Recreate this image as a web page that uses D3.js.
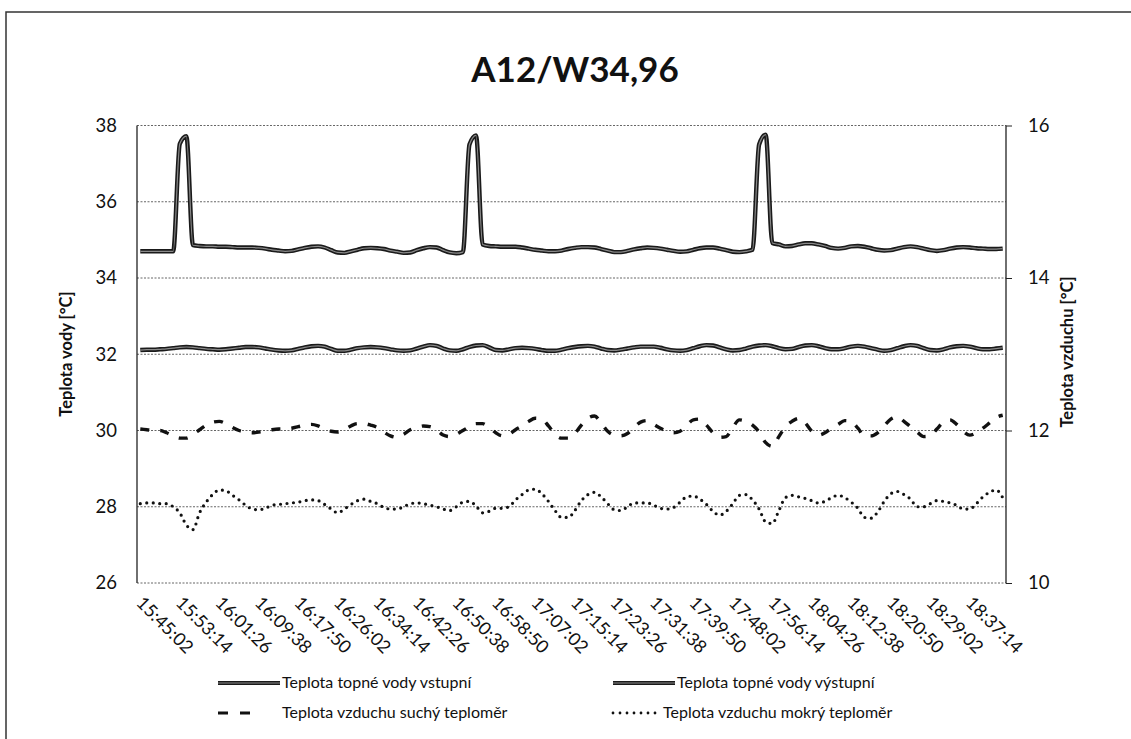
<!DOCTYPE html>
<html>
<head>
<meta charset="utf-8">
<script src="https://cdnjs.cloudflare.com/ajax/libs/d3/7.8.5/d3.min.js"></script>
<style>
body { margin: 0; background: #fff; }
text { font-family: Lato, "Open Sans", sans-serif; fill: #111; }
</style>
</head>
<body>
<svg id="chart" width="1131" height="739"></svg>
<script>

// popisky osy x (kazdy 6. odecet)
var tickLabels = ["15:45:02","15:53:14","16:01:26","16:09:38","16:17:50","16:26:02","16:34:14","16:42:26",
    "16:50:38","16:58:50","17:07:02","17:15:14","17:23:26","17:31:38","17:39:50","17:48:02","17:56:14",
    "18:04:26","18:12:38","18:20:50","18:29:02","18:37:14"];
var labelEvery = 6;

var seriesNames = ["Teplota topné vody vstupní", "Teplota topné vody výstupní",
    "Teplota vzduchu suchý teploměr", "Teplota vzduchu mokrý teploměr"];

// leva osa - voda
var waterIn = [34.70,34.70,34.70,34.70,34.70,34.70,37.52,37.72,34.86,34.84,
    34.83,34.83,34.82,34.82,34.81,34.80,34.80,34.80,34.79,34.77,
    34.74,34.72,34.70,34.71,34.75,34.79,34.82,34.83,34.80,34.73,
    34.67,34.66,34.70,34.74,34.78,34.79,34.78,34.76,34.72,34.69,
    34.66,34.67,34.73,34.78,34.81,34.80,34.73,34.67,34.65,34.68,
    37.50,37.74,34.88,34.84,34.83,34.82,34.82,34.82,34.80,34.77,
    34.74,34.72,34.70,34.70,34.72,34.76,34.79,34.81,34.81,34.80,
    34.76,34.72,34.68,34.68,34.71,34.75,34.78,34.80,34.79,34.77,
    34.74,34.71,34.69,34.70,34.74,34.78,34.80,34.80,34.77,34.73,
    34.69,34.68,34.70,34.74,37.50,37.76,34.92,34.88,34.83,34.84,
    34.88,34.91,34.91,34.88,34.84,34.79,34.77,34.79,34.83,34.84,
    34.82,34.78,34.74,34.72,34.73,34.77,34.81,34.83,34.81,34.77,
    34.73,34.71,34.73,34.77,34.80,34.81,34.80,34.78,34.77,34.76,
    34.76,34.77];

var waterOut = [32.11,32.12,32.12,32.13,32.14,32.16,32.18,32.19,32.18,32.16,
    32.14,32.13,32.12,32.13,32.15,32.17,32.19,32.19,32.18,32.15,
    32.12,32.10,32.09,32.10,32.14,32.18,32.21,32.22,32.20,32.14,
    32.09,32.09,32.12,32.16,32.18,32.19,32.18,32.16,32.13,32.10,
    32.09,32.10,32.15,32.20,32.24,32.22,32.15,32.10,32.09,32.13,
    32.19,32.23,32.24,32.18,32.11,32.10,32.13,32.16,32.17,32.16,
    32.14,32.11,32.09,32.09,32.12,32.16,32.19,32.21,32.22,32.20,
    32.15,32.11,32.10,32.12,32.15,32.18,32.20,32.20,32.20,32.17,
    32.13,32.10,32.09,32.11,32.16,32.21,32.24,32.23,32.18,32.13,
    32.10,32.11,32.15,32.20,32.23,32.24,32.21,32.16,32.13,32.14,
    32.19,32.23,32.24,32.21,32.16,32.13,32.13,32.16,32.20,32.22,
    32.20,32.16,32.12,32.09,32.11,32.16,32.21,32.24,32.22,32.16,
    32.11,32.10,32.13,32.18,32.21,32.22,32.20,32.16,32.13,32.13,
    32.15,32.17];

// prava osa - vzduch
var airDry = [12.02,12.01,12.00,12.00,11.97,11.93,11.90,11.90,11.95,12.01,
    12.07,12.11,12.12,12.09,12.04,12.00,11.98,11.97,11.98,11.99,
    12.01,12.02,12.02,12.03,12.05,12.07,12.08,12.06,12.02,11.99,
    11.98,12.01,12.06,12.09,12.09,12.07,12.04,11.98,11.93,11.91,
    11.95,12.01,12.04,12.06,12.05,12.01,11.94,11.92,11.95,12.00,
    12.05,12.09,12.09,12.04,11.97,11.93,11.95,12.01,12.06,12.12,
    12.16,12.15,12.06,11.95,11.90,11.90,11.96,12.07,12.16,12.19,
    12.10,11.99,11.94,11.93,11.96,12.04,12.11,12.13,12.08,12.03,
    11.99,11.97,11.99,12.07,12.14,12.15,12.07,11.97,11.91,11.92,
    12.04,12.14,12.12,12.07,11.98,11.84,11.79,11.92,12.05,12.12,
    12.16,12.10,11.99,11.94,11.97,12.03,12.08,12.13,12.12,12.03,
    11.93,11.93,11.97,12.06,12.15,12.18,12.12,12.05,11.98,11.92,
    11.93,12.02,12.11,12.14,12.08,11.99,11.94,11.97,12.03,12.10,
    12.17,12.20];

var airWet = [11.04,11.05,11.05,11.04,11.04,11.00,10.92,10.76,10.70,10.92,
    11.06,11.16,11.22,11.21,11.15,11.09,11.02,10.97,10.96,10.98,
    11.02,11.03,11.04,11.05,11.06,11.08,11.09,11.08,11.03,10.97,
    10.92,10.97,11.03,11.08,11.10,11.07,11.04,10.99,10.97,10.97,
    11.00,11.04,11.05,11.04,11.02,11.00,10.97,10.95,11.00,11.06,
    11.07,11.01,10.92,10.94,10.98,10.98,11.00,11.09,11.16,11.22,
    11.23,11.17,11.07,10.95,10.86,10.86,10.95,11.08,11.16,11.19,
    11.13,11.04,10.96,10.95,11.00,11.05,11.05,11.05,11.02,10.98,
    10.97,10.99,11.06,11.13,11.14,11.10,11.03,10.94,10.89,10.94,
    11.04,11.15,11.16,11.09,10.97,10.80,10.78,10.95,11.12,11.15,
    11.13,11.11,11.08,11.05,11.07,11.12,11.15,11.12,11.06,10.98,
    10.86,10.85,10.93,11.07,11.17,11.20,11.16,11.10,11.00,11.00,
    11.04,11.08,11.07,11.05,11.02,10.97,10.97,11.04,11.13,11.19,
    11.22,11.12];

var svg = d3.select("#chart");

// ramecek kolem grafu (pravy a spodni okraj je oriznuty)
svg.append("rect")
    .attr("x", 6).attr("y", 12)
    .attr("width", 1140).attr("height", 740)
    .attr("fill", "none")
    .attr("stroke", "#333")
    .attr("stroke-width", 1.5);

// pozor: "top" je v prohlizeci rezervovane, proto plotTop
var plotLeft = 137, plotRight = 1006, plotTop = 125.5, plotBottom = 583;

var idx = d3.range(waterIn.length);
var x = d3.scalePoint().domain(idx).range([plotLeft, plotRight]).padding(0.5);
var yLeft = d3.scaleLinear().domain([26, 38]).range([plotBottom, plotTop]);
var yRight = d3.scaleLinear().domain([10, 16]).range([plotBottom, plotTop]);

// mrizka
svg.append("g")
    .selectAll("line")
    .data(d3.range(26, 39, 2))
    .enter()
    .append("line")
        .attr("x1", plotLeft).attr("x2", plotRight)
        .attr("y1", d => yLeft(d)).attr("y2", d => yLeft(d))
        .attr("stroke", "#555")
        .attr("stroke-width", 0.9)
        .attr("stroke-dasharray", "2,1.5");

// osy
svg.append("line")
    .attr("x1", plotLeft).attr("x2", plotLeft).attr("y1", plotTop).attr("y2", plotBottom)
    .attr("stroke", "#222").attr("stroke-width", 1.3);
svg.append("line")
    .attr("x1", plotRight).attr("x2", plotRight).attr("y1", plotTop).attr("y2", plotBottom)
    .attr("stroke", "#222").attr("stroke-width", 1.3);

var gl = svg.append("g").attr("transform", "translate(" + plotLeft + ",0)")
    .call(d3.axisLeft(yLeft).tickValues(d3.range(26, 39, 2)).tickSize(0).tickPadding(20));
var gr = svg.append("g").attr("transform", "translate(" + plotRight + ",0)")
    .call(d3.axisRight(yRight).tickValues(d3.range(10, 17, 2)).tickFormat(d3.format("d")).tickSize(6).tickPadding(16));
[gl, gr].forEach(function(g){
    g.select(".domain").remove();
    g.selectAll("line").attr("stroke", "#222");
    g.selectAll("text").style("font-family", "Lato, sans-serif").style("font-size", "18.5px").attr("fill", "#111");
});

// popisky casu, otocene o 45 stupnu
svg.append("g")
    .selectAll("text")
    .data(tickLabels)
    .enter()
    .append("text")
        .attr("transform", function(d, i){
            return "translate(" + (x(i * labelEvery) - 5) + ",604) rotate(45)";
        })
        .style("font-size", "18px")
        .text(d => d);

// krivky
function lineFor(scale){
    return d3.line()
        .x((d, i) => x(i))
        .y(d => scale(d))
        .curve(d3.curveMonotoneX);
}

function waterLine(data){
    svg.append("path").datum(data)
        .attr("d", lineFor(yLeft))
        .attr("fill", "none").attr("stroke", "#1a1a1a").attr("stroke-width", 4.4)
        .attr("stroke-linejoin", "round");
    svg.append("path").datum(data)
        .attr("d", lineFor(yLeft))
        .attr("fill", "none").attr("stroke", "#8a8a8a").attr("stroke-width", 1.2);
}
waterLine(waterIn);
waterLine(waterOut);

svg.append("path").datum(airDry)
    .attr("d", lineFor(yRight))
    .attr("fill", "none").attr("stroke", "#111").attr("stroke-width", 3.4)
    .attr("stroke-dasharray", "9,11");

svg.append("path").datum(airWet)
    .attr("d", lineFor(yRight))
    .attr("fill", "none").attr("stroke", "#111").attr("stroke-width", 3.2)
    .attr("stroke-linecap", "round")
    .attr("stroke-dasharray", "0,6.5");

// nadpis a popisky os
svg.append("text")
    .attr("x", 575).attr("y", 82)
    .attr("text-anchor", "middle")
    .style("font-size", "35px").style("font-weight", "bold")
    .text("A12/W34,96");

svg.append("text")
    .attr("transform", "translate(72,354) rotate(-90)")
    .attr("text-anchor", "middle")
    .style("font-size", "16.5px").style("font-weight", "bold")
    .text("Teplota vody [°C]");

svg.append("text")
    .attr("transform", "translate(1073,352) rotate(-90)")
    .attr("text-anchor", "middle")
    .style("font-size", "16.5px").style("font-weight", "bold")
    .text("Teplota vzduchu [°C]");

// legenda 2x2
var legendPos = [[218, 683], [613, 683], [218, 713], [613, 713]];
var lg = svg.append("g");

legendPos.forEach(function(p, i){
    var len = i == 3 ? 45 : (i == 2 ? 34 : 62);
    var ln = lg.append("line")
        .attr("x1", p[0]).attr("x2", p[0] + len)
        .attr("y1", p[1]).attr("y2", p[1])
        .attr("fill", "none");
    if(i < 2){
        ln.attr("stroke", "#1a1a1a").attr("stroke-width", 4);
        lg.append("line")
            .attr("x1", p[0]).attr("x2", p[0] + len)
            .attr("y1", p[1]).attr("y2", p[1])
            .attr("stroke", "#8a8a8a").attr("stroke-width", 1.2);
    }else if(i == 2){
        ln.attr("stroke", "#111").attr("stroke-width", 3).attr("stroke-dasharray", "10,12");
    }else{
        ln.attr("stroke", "#111").attr("stroke-width", 2.8).attr("stroke-linecap", "round").attr("stroke-dasharray", "0,7");
    }
    lg.append("text")
        .attr("x", i == 3 ? p[0] + 50 : p[0] + 64)
        .attr("y", p[1] + 5)
        .style("font-size", "16px")
        .text(seriesNames[i]);
});

</script>
</body>
</html>
